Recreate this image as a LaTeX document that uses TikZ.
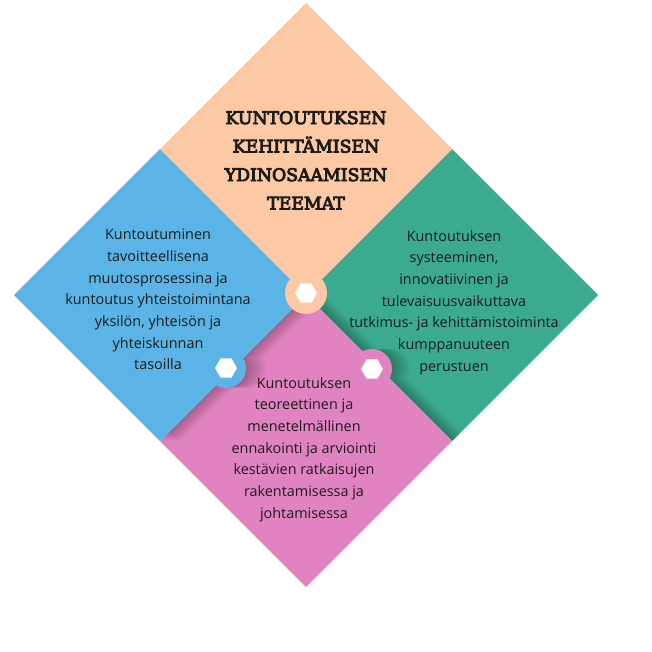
\documentclass[tikz,border=0pt]{standalone}
\definecolor{peach}{RGB}{253, 201, 165}
\definecolor{skyblue}{RGB}{91, 180, 229}
\definecolor{seagreen}{RGB}{59, 170, 142}
\definecolor{orchid}{RGB}{226, 131, 193}
\definecolor{inkdark}{RGB}{28, 28, 28}
\usepackage{fontspec}
\usepackage{tikz}
\newfontfamily\opensans{Open Sans}
\newfontfamily\slabfont{DejaVu Serif}[AutoFakeBold=5]
\usetikzlibrary{shapes.geometric,positioning,calc}

\begin{document}
\begin{tikzpicture}[x=1pt, y=-1pt,
    themetext/.style={align=center, inner sep=0pt, anchor=north, text=inkdark,
        font={\opensans\fontsize{14.4}{21.7}\selectfont}},
    titletext/.style={align=center, inner sep=0pt, anchor=north, text=inkdark,
        font={\slabfont\bfseries\fontsize{17.3}{28.5}\selectfont}},
    knob/.style={circle, inner sep=0pt, minimum size=40pt},
    hexmark/.style={regular polygon, regular polygon sides=6, fill=white,
        inner sep=0pt, minimum size=22pt}]
    \useasboundingbox[fill=white] (0,0) rectangle (652,652);

    % tiles
    \fill[seagreen] (452,149) -- (598,295) -- (452,441) -- (306,295) -- cycle;
    \begin{scope}
        \clip (452,149) -- (598,295) -- (452,441) -- (306,295) -- cycle;
        \foreach \s in {1,...,8}
            \fill[black, opacity=0.035, xshift=\s*2.2pt]
                (306,295) -- (452,441) -- (306,587) -- (160,441) -- cycle
                (372,369) circle (20);
    \end{scope}
    \fill[orchid] (306,295) -- (452,441) -- (306,587) -- (160,441) -- cycle;
    \node[knob, fill=orchid] (knobpink) at (372,369) {};
    \begin{scope}
        \clip (306,295) -- (452,441) -- (306,587) -- (160,441) -- cycle
            (372,369) circle (20);
        \foreach \s in {1,...,8}
            \fill[black, opacity=0.035, xshift=\s*2.5pt]
                (160,149) -- (306,295) -- (160,441) -- (14,295) -- cycle
                (226,368) circle (20);
    \end{scope}
    \fill[skyblue] (160,149) -- (306,295) -- (160,441) -- (14,295) -- cycle;
    \node[knob, fill=skyblue] (knobblue) at (226,368) {};
    \fill[peach] (306,3) -- (452,149) -- (306,295) -- (160,149) -- cycle;
    \node[knob, fill=peach, minimum size=42pt] (knobcore) at (306,293) {};

    % hexagon marks
    \node[hexmark] (hexcore) at (knobcore.center) {};
    \node[hexmark] (hexblue) at (knobblue.center) {};
    \node[hexmark] (hexpink) at (knobpink.center) {};

    % texts
    \node[titletext] (title) at (306,111) {KUNTOUTUKSEN\\KEHITTÄMISEN\\YDINOSAAMISEN\\TEEMAT};
    \node[themetext] (themeblue) at (158,229) {Kuntoutuminen\\tavoitteellisena\\muutosprosessina ja\\kuntoutus yhteistoimintana\\yksilön, yhteisön ja\\yhteiskunnan\\tasoilla};
    \node[themetext] (themegreen) at (454,230) {Kuntoutuksen\\systeeminen,\\innovatiivinen ja\\tulevaisuusvaikuttava\\tutkimus- ja kehittämistoiminta\\kumppanuuteen\\perustuen};
    \node[themetext] (themepink) at (304,377) {Kuntoutuksen\\teoreettinen ja\\menetelmällinen\\ennakointi ja arviointi\\kestävien ratkaisujen\\rakentamisessa ja\\johtamisessa};
\end{tikzpicture}
\end{document}
